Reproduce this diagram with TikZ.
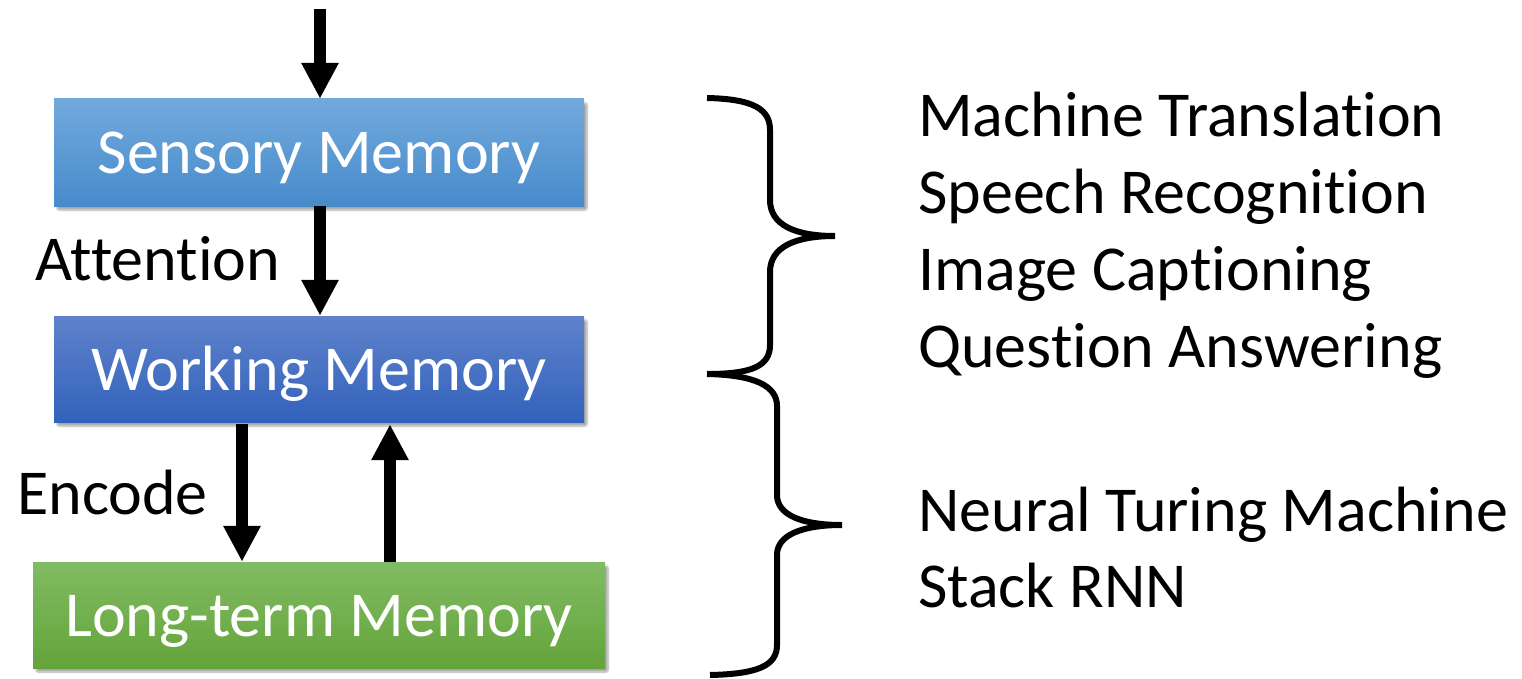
\documentclass[tikz,border=0pt]{standalone}
\usepackage{fontspec}
\setmainfont{Carlito}[RawFeature={-liga}]
\usetikzlibrary{arrows.meta,shadows.blur}
\definecolor{sensT}{HTML}{72A9DD}
\definecolor{sensB}{HTML}{478BCB}
\definecolor{wmT}{HTML}{5F82CA}
\definecolor{wmB}{HTML}{3262BC}
\definecolor{ltmT}{HTML}{81BB63}
\definecolor{ltmB}{HTML}{64A43A}
\tikzset{
  membox/.style={draw=none, inner sep=0pt, text=white,
    text height=46pt, text depth=4pt,
    font=\fontsize{64}{72}\selectfont,
    blur shadow={shadow xshift=3pt, shadow yshift=-4pt, shadow blur steps=6, shadow blur extra rounding=2pt, shadow opacity=35}},
  bigarrow/.style={line width=12pt, -{Triangle[width=35pt,length=36pt]}},
  lbl/.style={inner sep=0pt, anchor=base west, font=\fontsize{64}{72}\selectfont},
  brace/.style={line width=6pt, line cap=butt, line join=miter}
}
\begin{document}
\begin{tikzpicture}[x=1pt,y=-1pt]
\useasboundingbox (0,0) rectangle (1522,679);
\node[membox, minimum width=530pt, minimum height=107pt, top color=sensT, bottom color=sensB] (sens) at (319,152.5) {Sensory Memory};
\node[membox, minimum width=530pt, minimum height=106pt, top color=wmT, bottom color=wmB] (wm) at (319,369) {Working Memory};
\node[membox, minimum width=572pt, minimum height=106pt, top color=ltmT, bottom color=ltmB] (ltm) at (319,615) {Long-term Memory};

\coordinate (in) at (320,9);
\coordinate (encx) at (242,0);
\coordinate (retx) at (390,0);

\draw[bigarrow] (in) -- (in |- sens.north);
\draw[bigarrow] (in |- sens.south) -- (in |- wm.north);
\draw[bigarrow] (encx |- wm.south) ++(0,2) -- (encx |- ltm.north);
\draw[bigarrow] (retx |- ltm.north) -- ([yshift=-2pt]retx |- wm.south);

\node[lbl] (att) at (35,280) {Attention};
\node[lbl] (enc) at (17,514) {Encode};

\node[lbl] (t1) at (918,137) {Machine Translation};
\node[lbl] (t2) at (918,213) {Speech Recognition};
\node[lbl] (t3) at (918,290) {Image Captioning};
\node[lbl] (t4) at (918,367) {Question Answering};
\node[lbl] (t5) at (918,531) {Neural Turing Machine};
\node[lbl] (t6) at (918,607) {Stack RNN};

% upper brace
\draw[brace] (707,98) .. controls (755,99) and (770,110) .. (770,130) -- (770,200)
  .. controls (770,225) and (795,236) .. (835,236)
  .. controls (795,236) and (770,247) .. (770,272) -- (770,345)
  .. controls (770,366) and (752,374) .. (707,374);
% lower brace
\draw[brace] (707,374) .. controls (755,375) and (777,386) .. (777,406) -- (777,495)
  .. controls (777,515) and (802,525) .. (842,525)
  .. controls (802,525) and (777,535) .. (777,555) -- (777,645)
  .. controls (777,666) and (757,674) .. (710,675);
\end{tikzpicture}
\end{document}
